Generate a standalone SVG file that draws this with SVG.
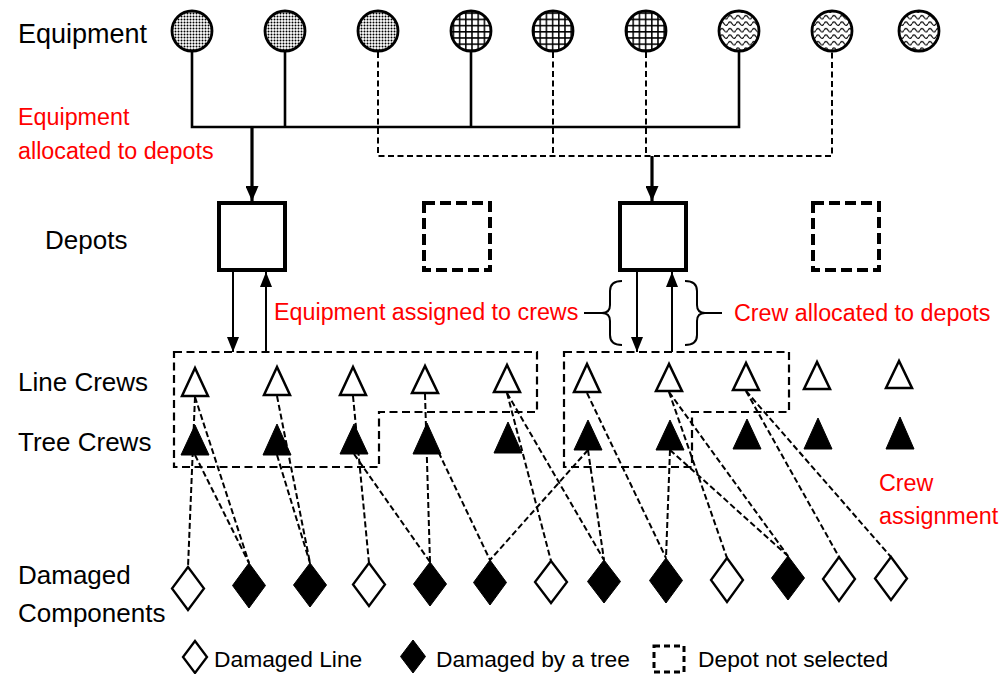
<svg xmlns="http://www.w3.org/2000/svg" width="1003" height="674" viewBox="0 0 1003 674">
<style>
.lbl{font-family:"Liberation Sans",Arial,sans-serif;font-size:26px;fill:#000}
.red{font-family:"Liberation Sans",Arial,sans-serif;font-size:23.3px;fill:#ff0000}
.leg{font-family:"Liberation Sans",Arial,sans-serif;font-size:22.8px;fill:#000}
.eqc{stroke:#000;stroke-width:2.8}
.feed{fill:none;stroke:#000;stroke-width:2.6}
.feedd{fill:none;stroke:#000;stroke-width:2;stroke-dasharray:6 3.5}
.depot{fill:#fff;stroke:#000;stroke-width:4}
.depotx{fill:#fff;stroke:#000;stroke-width:4;stroke-dasharray:11 5}
.grp{fill:none;stroke:#000;stroke-width:2.2;stroke-dasharray:8 4.5}
.asg{fill:none;stroke:#000;stroke-width:2;stroke-dasharray:6 3}
.lc{fill:#fff;stroke:#000;stroke-width:2.5;stroke-linejoin:miter}
.tc{fill:#000;stroke:#000;stroke-width:1}
.dl{fill:#fff;stroke:#000;stroke-width:2.3}
.dt{fill:#000;stroke:#000;stroke-width:1}
.arr{fill:none;stroke:#000;stroke-width:2}
.brace{fill:none;stroke:#000;stroke-width:2}
</style>
<defs>
<pattern id="pDot" patternUnits="userSpaceOnUse" width="3" height="3">
<rect width="3" height="3" fill="#fff"/>
<circle cx="1.5" cy="1.5" r="1" fill="#000"/>
</pattern>
<pattern id="pGrid" patternUnits="userSpaceOnUse" width="6.2" height="6.2">
<rect width="6.2" height="6.2" fill="#fff"/>
<path d="M0.8,0 V6.2 M0,0.8 H6.2" stroke="#000" stroke-width="1.5"/>
</pattern>
<pattern id="pWave" patternUnits="userSpaceOnUse" width="8" height="6.5">
<rect width="8" height="6.5" fill="#fff"/>
<path d="M0,4.2 Q2,0.8 4,4.2 T8,4.2" fill="none" stroke="#000" stroke-width="1.2"/>
</pattern>
<marker id="ah" markerUnits="userSpaceOnUse" markerWidth="15" markerHeight="13" viewBox="0 0 15 13" refX="15" refY="6.5" orient="auto">
<path d="M0,0 L15,6.5 L0,13 z" fill="#000"/>
</marker>
<marker id="ahs" markerUnits="userSpaceOnUse" markerWidth="15" markerHeight="12" viewBox="0 0 15 12" refX="15" refY="6" orient="auto">
<path d="M0,0 L15,6 L0,12 z" fill="#000"/>
</marker>
</defs>
<rect width="1003" height="674" fill="#fff"/>

<g id="labels">
<text class="lbl" x="18" y="43" style="font-size:27px">Equipment</text>
<text class="lbl" x="45" y="249">Depots</text>
<text class="lbl" x="18" y="391">Line Crews</text>
<text class="lbl" x="18" y="451">Tree Crews</text>
<text class="lbl" x="18" y="584">Damaged</text>
<text class="lbl" x="18" y="622">Components</text>
<text class="red" x="18" y="125">Equipment</text>
<text class="red" x="18" y="159">allocated to depots</text>
<text class="red" x="274" y="320">Equipment assigned to crews</text>
<text class="red" x="734" y="321">Crew allocated to depots</text>
<text class="red" x="879" y="491">Crew</text>
<text class="red" x="879" y="524">assignment</text>
</g>

<g id="connectors">
<path class="feed" d="M192,52 V127 H739 V52 M285,52 V127 M471,52 V127"/>
<path class="feedd" d="M378,52 V156 H832 V52 M553,52 V156 M646,52 V156"/>
<line x1="252" y1="127" x2="252" y2="201" stroke="#000" stroke-width="3.2" marker-end="url(#ah)"/>
<line x1="652" y1="156" x2="652" y2="201" stroke="#000" stroke-width="3.2" marker-end="url(#ah)"/>
<line class="arr" x1="233" y1="272" x2="233" y2="352" marker-end="url(#ahs)"/>
<line class="arr" x1="266" y1="352" x2="266" y2="272" marker-end="url(#ahs)"/>
<line class="arr" x1="637" y1="272" x2="637" y2="352" marker-end="url(#ahs)"/>
<line class="arr" x1="672" y1="352" x2="672" y2="272" marker-end="url(#ahs)"/>
<path class="brace" d="M622,281 Q610,281 610,291 L610,305 Q610,313 602,313 Q610,313 610,321 L610,335 Q610,345 622,345 M584,313 H602"/>
<path class="brace" d="M685,281 Q697,281 697,291 L697,305 Q697,313 705,313 Q697,313 697,321 L697,335 Q697,345 685,345 M705,313 H722"/>
<path class="grp" d="M174,352 H537 V412 H379 V467 H174 Z"/>
<path class="grp" d="M564,352 H789 V412 H692 V467 H564 Z"/>
<g class="asg">
<line x1="195" y1="397" x2="188" y2="567"/>
<line x1="195" y1="397" x2="249" y2="563"/>
<line x1="195" y1="455" x2="249" y2="563"/>
<line x1="277" y1="396" x2="310" y2="563"/>
<line x1="277" y1="455" x2="310" y2="563"/>
<line x1="353" y1="396" x2="369" y2="563"/>
<line x1="354" y1="454" x2="430" y2="562"/>
<line x1="425" y1="394" x2="430" y2="562"/>
<line x1="427" y1="428" x2="490" y2="560"/>
<line x1="507" y1="393" x2="551" y2="561"/>
<line x1="507" y1="393" x2="604" y2="560"/>
<line x1="588" y1="450" x2="490" y2="560"/>
<line x1="588" y1="450" x2="604" y2="560"/>
<line x1="587" y1="393" x2="666" y2="558"/>
<line x1="670" y1="450" x2="666" y2="558"/>
<line x1="669" y1="392" x2="727" y2="558"/>
<line x1="669" y1="392" x2="788" y2="556"/>
<line x1="670" y1="450" x2="788" y2="556"/>
<line x1="746" y1="391" x2="839" y2="557"/>
<line x1="746" y1="391" x2="891" y2="557"/>
</g>
</g>

<g id="equipment">
<circle id="eq1" class="eqc" cx="192" cy="31" r="20" fill="url(#pDot)"/>
<circle id="eq2" class="eqc" cx="285" cy="31" r="20" fill="url(#pDot)"/>
<circle id="eq3" class="eqc" cx="378" cy="31" r="20" fill="url(#pDot)"/>
<circle id="eq4" class="eqc" cx="471" cy="31" r="20" fill="url(#pGrid)"/>
<circle id="eq5" class="eqc" cx="553" cy="31" r="20" fill="url(#pGrid)"/>
<circle id="eq6" class="eqc" cx="646" cy="31" r="20" fill="url(#pGrid)"/>
<circle id="eq7" class="eqc" cx="739" cy="31" r="20" fill="url(#pWave)"/>
<circle id="eq8" class="eqc" cx="832" cy="31" r="20" fill="url(#pWave)"/>
<circle id="eq9" class="eqc" cx="919" cy="31" r="20" fill="url(#pWave)"/>
</g>

<g id="depots">
<rect id="depot1" class="depot" x="219" y="203" width="66" height="67"/>
<rect id="depot2" class="depotx" x="424" y="203" width="66" height="67"/>
<rect id="depot3" class="depot" x="620" y="203" width="66" height="67"/>
<rect id="depot4" class="depotx" x="813" y="203" width="66" height="67"/>
</g>

<g id="line-crews">
<polygon id="lc1" class="lc" points="195,368 182,396 208,396"/>
<polygon id="lc2" class="lc" points="277,367 264,395 290,395"/>
<polygon id="lc3" class="lc" points="353,367 340,395 366,395"/>
<polygon id="lc4" class="lc" points="425,366 412,393 438,393"/>
<polygon id="lc5" class="lc" points="507,365 494,392 520,392"/>
<polygon id="lc6" class="lc" points="587,364 574,392 600,392"/>
<polygon id="lc7" class="lc" points="669,364 656,391 682,391"/>
<polygon id="lc8" class="lc" points="746,363 733,390 759,390"/>
<polygon id="lc9" class="lc" points="817,362 804,389 830,389"/>
<polygon id="lc10" class="lc" points="899,361 886,388 912,388"/>
</g>

<g id="tree-crews">
<polygon id="tc1" class="tc" points="195,425 181,455 209,455"/>
<polygon id="tc2" class="tc" points="277,424 263,455 291,455"/>
<polygon id="tc3" class="tc" points="354,424 340,454 368,454"/>
<polygon id="tc4" class="tc" points="427,423 413,454 441,454"/>
<polygon id="tc5" class="tc" points="508,422 494,453 522,453"/>
<polygon id="tc6" class="tc" points="588,420 574,450 602,450"/>
<polygon id="tc7" class="tc" points="670,420 656,450 684,450"/>
<polygon id="tc8" class="tc" points="747,419 733,449 761,449"/>
<polygon id="tc9" class="tc" points="818,418 804,449 832,449"/>
<polygon id="tc10" class="tc" points="900,417 886,449 914,449"/>
</g>

<g id="components">
<polygon id="d1" class="dl" points="188,567 204,588.5 188,610 172,588.5"/>
<polygon id="d2" class="dt" points="249,563 265.5,585.5 249,608 232.5,585.5"/>
<polygon id="d3" class="dt" points="310,563 326.5,585 310,607 293.5,585"/>
<polygon id="d4" class="dl" points="369,563 385,584.5 369,606 353,584.5"/>
<polygon id="d5" class="dt" points="430,562 446.5,584 430,606 413.5,584"/>
<polygon id="d6" class="dt" points="490,560 506.5,582.5 490,605 473.5,582.5"/>
<polygon id="d7" class="dl" points="551,561 567,582 551,603 535,582"/>
<polygon id="d8" class="dt" points="604,560 620.5,581.5 604,603 587.5,581.5"/>
<polygon id="d9" class="dt" points="666,558 682.5,580.5 666,603 649.5,580.5"/>
<polygon id="d10" class="dl" points="727,558 743,580 727,602 711,580"/>
<polygon id="d11" class="dt" points="788,556 804.5,578 788,600 771.5,578"/>
<polygon id="d12" class="dl" points="839,557 855,579 839,601 823,579"/>
<polygon id="d13" class="dl" points="891,557 907,578.5 891,600 875,578.5"/>
</g>

<g id="legend">
<polygon class="dl" points="195,641 207,657 195,673 183,657"/>
<text class="leg" x="214" y="667">Damaged Line</text>
<polygon class="dt" points="413,640 425.5,656.5 413,673 400.5,656.5"/>
<text class="leg" x="436" y="667">Damaged by a tree</text>
<rect x="654" y="646" width="30" height="26" fill="none" stroke="#000" stroke-width="3" stroke-dasharray="6 4"/>
<text class="leg" x="698" y="667">Depot not selected</text>
</g>
</svg>
